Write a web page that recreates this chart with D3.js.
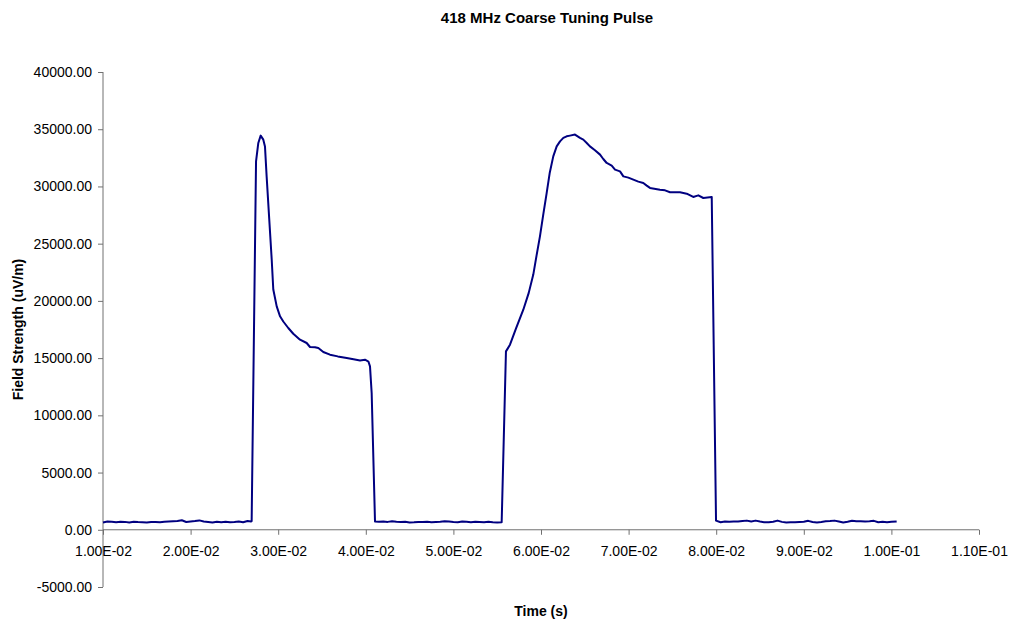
<!DOCTYPE html>
<html>
<head>
<meta charset="utf-8">
<script src="https://cdn.jsdelivr.net/npm/d3@7"></script>
<style>
  html, body { margin: 0; padding: 0; background: #fff; }
  svg { display: block; font-family: Arial, "Liberation Sans", sans-serif; }
</style>
</head>
<body>
<svg id="chart" width="1009" height="624"></svg>
<script>
// ---- Data ----
const chartTitle = "418 MHz Coarse Tuning Pulse";
const xTitle = "Time (s)";
const yTitle = "Field Strength (uV/m)";

const xTickValues = [0.01, 0.02, 0.03, 0.04, 0.05, 0.06, 0.07, 0.08, 0.09, 0.10, 0.11];
const xTickLabels = ["1.00E-02","2.00E-02","3.00E-02","4.00E-02","5.00E-02","6.00E-02","7.00E-02","8.00E-02","9.00E-02","1.00E-01","1.10E-01"];
const yTickValues = [-5000, 0, 5000, 10000, 15000, 20000, 25000, 30000, 35000, 40000];
const yTickLabels = ["-5000.00","0.00","5000.00","10000.00","15000.00","20000.00","25000.00","30000.00","35000.00","40000.00"];

// Baseline before first pulse
const base1Time = [0.0100,0.0105,0.0110,0.0115,0.0120,0.0125,0.0130,0.0135,0.0140,0.0145,0.0150,0.0155,0.0160,0.0165,0.0170,0.0175,0.0180,0.0185,0.0190,0.0195,0.0200,0.0205,0.0210,0.0215,0.0220,0.0225,0.0230,0.0235,0.0240,0.0245,0.0250,0.0255,0.0260,0.0265,0.0269];
const base1Field = [640,720,700,650,710,690,640,700,670,650,630,680,690,650,700,720,740,760,830,680,720,760,820,720,680,640,700,660,700,650,680,720,660,760,720];

// First pulse
const pulse1Time = [0.02697,0.02747,0.02773,0.02800,0.02830,0.02849,0.02868,0.02898,0.02926,0.02944,0.02983,0.03021,0.03058,0.03115,0.03172,0.03249,0.03325,0.03363,0.03420,0.03458,0.03515,0.03591,0.03680,0.03782,0.03860,0.03934,0.03991,0.04030,0.04048,0.04067,0.04105];
const pulse1Field = [760,32200,33800,34440,34090,33500,30880,27100,23600,21000,19520,18650,18200,17630,17130,16610,16320,15970,15950,15880,15530,15300,15150,15010,14900,14800,14860,14700,14275,11950,730];

// Baseline between pulses
const base2Time = [0.0415,0.0420,0.0425,0.0430,0.0435,0.0440,0.0445,0.0450,0.0455,0.0460,0.0465,0.0470,0.0475,0.0480,0.0485,0.0490,0.0495,0.0500,0.0505,0.0510,0.0515,0.0520,0.0525,0.0530,0.0535,0.0540,0.0545,0.0550];
const base2Field = [700,720,690,740,700,680,700,640,660,690,680,700,650,690,700,740,720,680,660,720,700,650,700,680,650,700,660,640];

// Second pulse
const pulse2Time = [0.05551,0.05600,0.05646,0.05715,0.05798,0.05860,0.05912,0.05950,0.05988,0.06027,0.06065,0.06100,0.06140,0.06179,0.06217,0.06255,0.06293,0.06331,0.06388,0.06445,0.06483,0.06522,0.06559,0.06616,0.06674,0.06711,0.06750,0.06807,0.06845,0.06902,0.06940,0.06997,0.07054,0.07111,0.07168,0.07207,0.07244,0.07358,0.07416,0.07473,0.07587,0.07663,0.07738,0.07796,0.07853,0.07949,0.07998];
const pulse2Field = [650,15590,16170,17600,19230,20700,22300,24000,25640,27600,29430,31200,32630,33500,33940,34240,34380,34440,34530,34240,34090,33800,33500,33160,32780,32400,32050,31820,31470,31320,30880,30770,30590,30420,30300,30070,29870,29720,29660,29490,29490,29370,29080,29220,28990,29080,800];

// Baseline after second pulse
const base3Time = [0.0805,0.0810,0.0815,0.0820,0.0825,0.0830,0.0835,0.0840,0.0845,0.0850,0.0855,0.0860,0.0865,0.0870,0.0875,0.0880,0.0885,0.0890,0.0895,0.0900,0.0905,0.0910,0.0915,0.0920,0.0925,0.0930,0.0935,0.0940,0.0945,0.0950,0.0955,0.0960,0.0965,0.0970,0.0975,0.0980,0.0985,0.0990,0.0995,0.1000,0.1006];
const base3Field = [660,720,700,730,720,760,800,720,800,720,650,660,700,800,690,640,650,660,680,700,780,680,640,680,740,760,800,720,640,700,790,740,740,730,750,780,660,700,660,700,730];

const time = [].concat(base1Time, pulse1Time, base2Time, pulse2Time, base3Time);
const field = [].concat(base1Field, pulse1Field, base2Field, pulse2Field, base3Field);
const points = time.map((t, i) => ({ t: t, v: field[i] }));

// ---- Layout ----
const svg = d3.select("#chart");
const plot = { left: 103, right: 979, top: 72, bottom: 587 };

const x = d3.scaleLinear().domain([0.01, 0.11]).range([plot.left, plot.right]);
const y = d3.scaleLinear().domain([-5000, 40000]).range([plot.bottom, plot.top]);

const axisColor = "#707070";
const fontFam = "Arial, 'Liberation Sans', sans-serif";

// Y axis
const yAxis = d3.axisLeft(y)
  .tickValues(yTickValues)
  .tickSize(5)
  .tickPadding(6)
  .tickFormat((d, i) => yTickLabels[i]);
const gy = svg.append("g").attr("transform", `translate(${plot.left},0)`).call(yAxis);
gy.select(".domain").attr("stroke", axisColor).attr("d", `M0,${plot.top}V${plot.bottom}`);
gy.selectAll(".tick line").attr("stroke", axisColor);
gy.selectAll(".tick text").attr("fill", "#000").style("font-size", "14px").style("font-family", fontFam);

// X axis at y = 0
const xAxis = d3.axisBottom(x)
  .tickValues(xTickValues)
  .tickSize(5)
  .tickPadding(11)
  .tickFormat((d, i) => xTickLabels[i]);
const gx = svg.append("g").attr("transform", `translate(0,${y(0)})`).call(xAxis);
gx.select(".domain").attr("stroke", axisColor).attr("d", `M${plot.left},0H${plot.right}`);
gx.selectAll(".tick line").attr("stroke", axisColor);
gx.selectAll(".tick text").attr("fill", "#000").style("font-size", "14px").style("font-family", fontFam);

// Line
const line = d3.line().x(d => x(d.t)).y(d => y(d.v));
svg.append("path")
  .datum(points)
  .attr("fill", "none")
  .attr("stroke", "#000080")
  .attr("stroke-width", 2)
  .attr("stroke-linejoin", "round")
  .attr("d", line);

// Titles
svg.append("text")
  .attr("x", 547).attr("y", 22.5)
  .attr("text-anchor", "middle")
  .style("font-size", "15px").style("font-weight", "bold")
  .text(chartTitle);

svg.append("text")
  .attr("x", 541).attr("y", 616)
  .attr("text-anchor", "middle")
  .style("font-size", "14px").style("font-weight", "bold")
  .text(xTitle);

svg.append("text")
  .attr("transform", `translate(23,${(plot.top + plot.bottom) / 2}) rotate(-90)`)
  .attr("text-anchor", "middle")
  .style("font-size", "14px").style("font-weight", "bold")
  .text(yTitle);
</script>
</body>
</html>
